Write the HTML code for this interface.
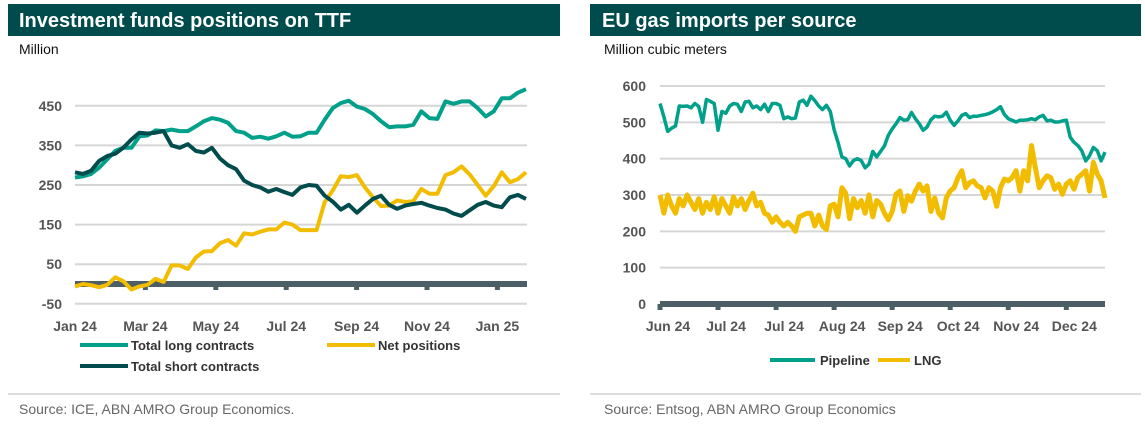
<!DOCTYPE html>
<html><head><meta charset="utf-8"><style>
body{margin:0;background:#fff;width:1145px;height:421px;overflow:hidden;font-family:"Liberation Sans",sans-serif}
svg text{font-family:"Liberation Sans",sans-serif}
</style></head><body>
<svg id="s" width="1145" height="421">
<rect x="8" y="4" width="552" height="32" fill="#004c4c"/>
<text x="19" y="27" fill="#fff" font-size="20" font-weight="bold">Investment funds positions on TTF</text>
<text x="19" y="54" fill="#111" font-size="14">Million</text>
<rect x="590" y="4" width="551" height="32" fill="#004c4c"/>
<text x="602" y="27" fill="#fff" font-size="20" font-weight="bold">EU gas imports per source</text>
<text x="604" y="54" fill="#111" font-size="14">Million cubic meters</text>
<line x1="8" y1="394" x2="560" y2="394" stroke="#bbb"/>
<line x1="590" y1="394" x2="1141" y2="394" stroke="#bbb"/>
<text x="19" y="414" fill="#666" font-size="14">Source: ICE, ABN AMRO Group Economics.</text>
<text x="604" y="414" fill="#666" font-size="14">Source: Entsog, ABN AMRO Group Economics</text>
<g id="L"></g><g id="R"></g>
<g>
<line x1="80" y1="345" x2="128" y2="345" stroke="#00a08a" stroke-width="4"/><text x="131" y="350" font-size="13" font-weight="bold" fill="#333">Total long contracts</text>
<line x1="327" y1="345" x2="375" y2="345" stroke="#f2bd00" stroke-width="4"/><text x="378" y="350" font-size="13" font-weight="bold" fill="#333">Net positions</text>
<line x1="80" y1="366" x2="128" y2="366" stroke="#004c4c" stroke-width="4"/><text x="131" y="371" font-size="13" font-weight="bold" fill="#333">Total short contracts</text>
</g>
<g>
<line x1="770" y1="360" x2="815" y2="360" stroke="#00a08a" stroke-width="4"/><text x="820" y="365" font-size="13" font-weight="bold" fill="#333">Pipeline</text>
<line x1="878" y1="360" x2="910" y2="360" stroke="#f2bd00" stroke-width="4"/><text x="914" y="365" font-size="13" font-weight="bold" fill="#333">LNG</text>
</g>
</svg>
<script>
const leftTicks=[450,350,250,150,50,-50];
const leftXLabels=["Jan 24","Mar 24","May 24","Jul 24","Sep 24","Nov 24","Jan 25"];
const longContracts=[269,272,278,294,315,336,344,344,373,375,388,386,390,386,386,398,411,419,415,407,386,382,369,372,367,373,382,372,373,382,382,415,444,457,463,448,442,429,411,396,398,398,402,436,419,417,461,455,461,461,444,423,436,469,469,483,492];
const shortContracts=[282,278,286,311,323,329,344,365,382,380,382,386,350,344,353,336,332,344,317,300,290,261,250,244,233,240,232,225,244,250,248,223,208,188,200,180,198,215,223,200,190,198,202,205,198,192,188,178,172,186,200,207,198,194,219,225,215];
const netPositions=[-6,0,-3,-8,-2,17,7,-14,-6,-2,13,5,47,47,38,67,82,83,103,111,97,128,125,132,138,138,155,150,136,136,136,207,236,272,270,275,244,219,197,198,211,207,209,240,228,228,275,282,297,277,250,223,247,282,257,265,282];
const rightTicks=[600,500,400,300,200,100,0];
const rightXLabels=["Jun 24","Jul 24","Jul 24","Aug 24","Sep 24","Oct 24","Nov 24","Dec 24"];
const pipeline=[552,515,475,484,490,545,544,545,540,552,544,500,563,558,552,478,530,525,545,552,550,530,556,558,540,545,535,550,530,552,552,547,510,515,510,512,556,561,547,572,560,545,535,547,530,480,445,405,400,380,395,400,395,375,385,420,405,420,435,
464,482,496,513,506,507,527,510,496,478,487,507,517,515,517,528,506,492,504,519,524,513,517,517,519,521,524,529,535,543,522,510,506,501,506,506,507,510,507,515,519,504,506,501,501,504,506,459,445,436,422,394,408,431,422,394,418];
const lng=[300,250,300,270,250,290,270,300,280,260,290,250,280,260,295,250,290,270,250,295,270,290,260,285,305,270,280,250,245,225,240,225,215,225,215,200,240,245,250,250,215,245,215,205,270,275,240,320,305,235,290,265,285,250,300,240,285,275,250,
232,255,302,311,255,298,283,311,330,311,325,255,292,251,237,292,311,320,348,367,320,334,339,325,320,292,320,311,269,320,344,339,348,367,311,367,339,436,376,320,339,353,348,316,330,302,330,339,316,348,357,367,311,390,357,339,292];
const NS='http://www.w3.org/2000/svg';
function mk(p,t,a){const e=document.createElementNS(NS,t);for(const k in a)e.setAttribute(k,a[k]);p.appendChild(e);return e;}
const L=document.getElementById('L');
const lx0=75,lx1=526,lyS=v=>284-v*0.396;
const lxS=i=>lx0+i*(lx1-lx0)/(longContracts.length-1);
leftTicks.forEach(t=>{const g=mk(L,'line',{x1:lx0,x2:527,y1:lyS(t),y2:lyS(t),stroke:'#d6d6d6','stroke-width':2});

const tx=mk(L,'text',{x:62,y:lyS(t)+5,'text-anchor':'end','font-size':14,'font-weight':'bold',fill:'#555'});tx.textContent=t;
});
const lb=mk(L,'line',{x1:lx0,x2:527,y1:284,y2:284,stroke:'#4d5f66','stroke-width':6});

leftXLabels.forEach((s,k)=>{const x=lx0+k*70.4;
if(k>0)mk(L,'line',{x1:x,x2:x,y1:284,y2:290,stroke:'#4d5f66','stroke-width':5});
const tx=mk(L,'text',{x:x,y:331,'text-anchor':'middle','font-size':14,'font-weight':'bold',fill:'#555'});tx.textContent=s;
});
function line(p,arr,xs,ys,col,name,w){const d=arr.map((v,i)=>(i?'L':'M')+xs(i).toFixed(1)+','+ys(v).toFixed(1)).join('');
const e=mk(p,'path',{d:d,fill:'none',stroke:col,'stroke-width':w||4,'stroke-linejoin':'round'});
}
line(L,netPositions,lxS,lyS,'#f2bd00','net-positions-line');
line(L,longContracts,lxS,lyS,'#00a08a','total-long-line');
line(L,shortContracts,lxS,lyS,'#004c4c','total-short-line');
const R=document.getElementById('R');
const rx0=660,rx1=1105,ryS=v=>304-v*0.3633;
const rxS=i=>rx0+i*(rx1-rx0)/(pipeline.length-1);
rightTicks.forEach(t=>{if(t>0){const g=mk(R,'line',{x1:rx0,x2:1105,y1:ryS(t),y2:ryS(t),stroke:'#d6d6d6','stroke-width':2});
}
const tx=mk(R,'text',{x:646,y:ryS(t)+5,'text-anchor':'end','font-size':14,'font-weight':'bold',fill:'#555'});tx.textContent=t;
});
const rb=mk(R,'line',{x1:rx0,x2:1105,y1:304,y2:304,stroke:'#4d5f66','stroke-width':6});

rightXLabels.forEach((s,k)=>{const x=rx0+k*30*(rx1-rx0)/230;
mk(R,'line',{x1:x,x2:x,y1:304,y2:310,stroke:'#4d5f66','stroke-width':5});
const tx=mk(R,'text',{x:x+8,y:331,'text-anchor':'middle','font-size':14,'font-weight':'bold',fill:'#555'});tx.textContent=s;
});
line(R,lng,rxS,ryS,'#f2bd00','lng-line',5);
line(R,pipeline,rxS,ryS,'#00a08a','pipeline-line',3.5);
</script>
</body></html>
